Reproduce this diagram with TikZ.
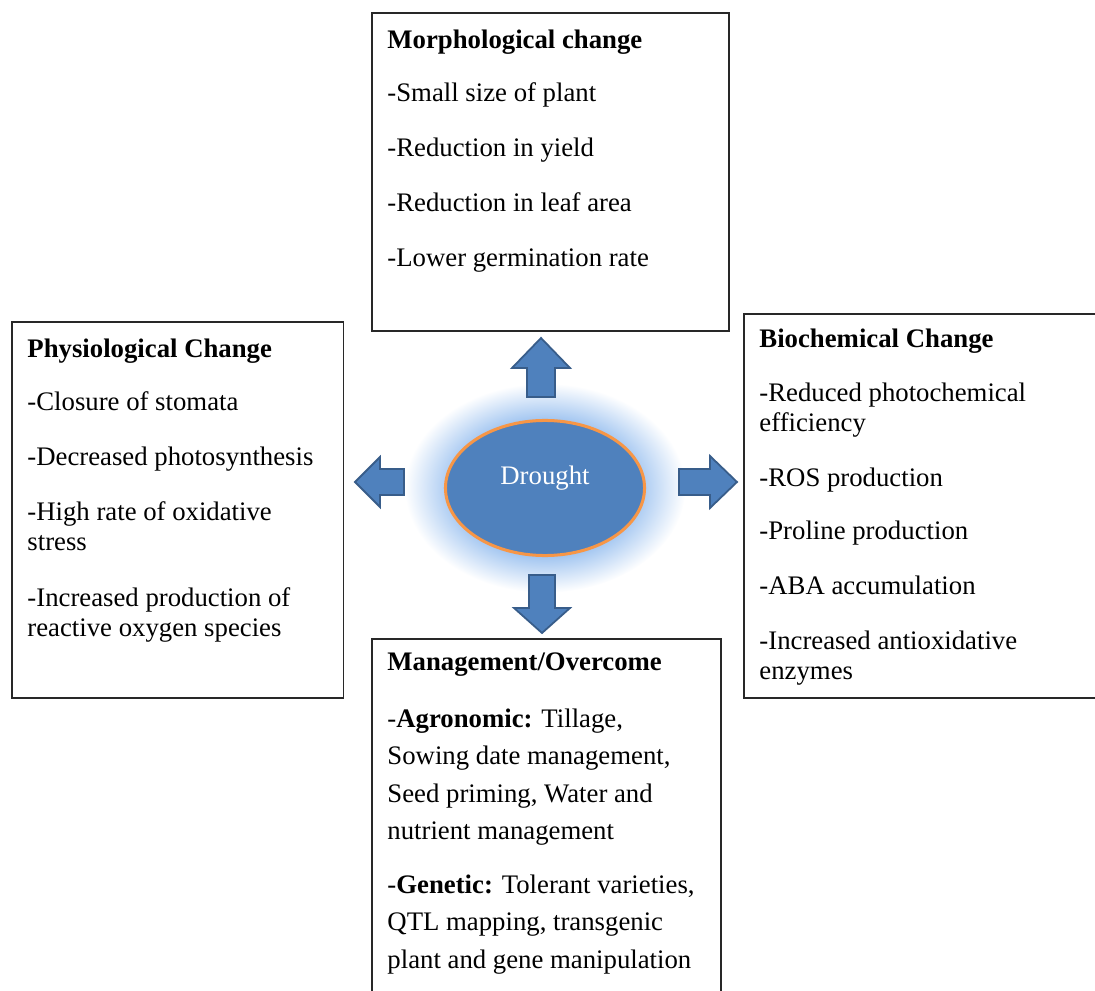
\documentclass[tikz,border=0pt]{standalone}
\usepackage{fontspec}
\setmainfont{Liberation Serif}
\usetikzlibrary{shapes.geometric}

\definecolor{dblue}{RGB}{79,129,189}
\definecolor{dblueedge}{RGB}{56,93,138}
\definecolor{dorange}{RGB}{247,150,70}
\definecolor{glowblue}{RGB}{158,195,240}
\definecolor{boxedge}{RGB}{40,40,40}
\pgfdeclareradialshading{glow}{\pgfpoint{0bp}{0bp}}{color(0bp)=(glowblue); color(16bp)=(glowblue); color(25bp)=(white); color(50bp)=(white)}

\begin{document}
\begin{tikzpicture}[x=0.4486pt, y=-0.4486pt,
  box/.style={draw=boxedge, line width=0.7pt, rectangle, inner sep=0pt, anchor=north west},
  boxtext/.style={anchor=north west, align=left, inner sep=0pt, font=\fontsize{12pt}{13.46pt}\selectfont},
  blockarrow/.style={fill=dblue, draw=dblueedge, line width=0.8pt, line join=miter}]
\useasboundingbox (0,0) rectangle (1095,991);

% halo and centre
\shade[shading=glow] (545,488) ellipse [x radius=63pt, y radius=47pt];
\node[ellipse, fill=dblue, draw=dorange, line width=1.35pt, inner sep=0pt,
      minimum width=89.3pt, minimum height=60.6pt] (drought) at (545,488) {};
\node[font=\fontsize{12pt}{14pt}\selectfont, text=white] (droughtlabel)
      at ([yshift=4.5pt]drought.center) {Drought};

\foreach \bx/\by/\ang/\len/\hl/\hw/\sw in {541/397/90/59/30/29/14, 542/575/270/58/25/28/13,
                                           404/482/180/49/25/25/13, 679/482/0/58/27/26/13}
	{
	\draw[blockarrow, shift={(\bx,\by)}, rotate=\ang] (0,-\sw) -- (\len-\hl,-\sw)
		-- (\len-\hl,-\hw) -- (\len,0) -- (\len-\hl,\hw) -- (\len-\hl,\sw) -- (0,\sw) -- cycle;
	}

% boxes
\node[box, minimum width=160.2pt, minimum height=142.7pt] (morph) at (371,12) {};
\node[box, minimum width=148.9pt, minimum height=168.7pt] (physio) at (11,321) {};
\node[box, minimum width=162.4pt, minimum height=172.3pt] (biochem) at (743,313) {};
\node[box, minimum width=156.6pt, minimum height=162.4pt] (manage) at (371,638) {};

\node[boxtext] (morphtext) at (387,30) {\textbf{Morphological change}\\[10.3pt]
	-Small size of plant\\[11.2pt]
	-Reduction in yield\\[11.2pt]
	-Reduction in leaf area\\[11.2pt]
	-Lower germination rate};

\node[boxtext] (physiotext) at (27,338) {\textbf{Physiological Change}\\[10.6pt]
	-Closure of stomata\\[11.2pt]
	-Decreased photosynthesis\\[11.2pt]
	-High rate of oxidative\\
	stress\\[11.7pt]
	-Increased production of\\
	reactive oxygen species};

\node[boxtext] (biochemtext) at (759,328) {\textbf{Biochemical Change}\\[11.2pt]
	-Reduced photochemical\\
	efficiency\\[11.2pt]
	-ROS production\\[10.3pt]
	-Proline production\\[11.2pt]
	-ABA accumulation\\[11.2pt]
	-Increased antioxidative\\
	enzymes};

\node[boxtext, font=\fontsize{12pt}{16.8pt}\selectfont] (managetext) at (387,652) {\textbf{Management/Overcome}\\[8.8pt]
	-\textbf{Agronomic:} Tillage,\\
	Sowing date management,\\
	Seed priming, Water and\\
	nutrient management\\[7.4pt]
	-\textbf{Genetic:} Tolerant varieties,\\
	QTL mapping, transgenic\\
	plant and gene manipulation};
\end{tikzpicture}
\end{document}
